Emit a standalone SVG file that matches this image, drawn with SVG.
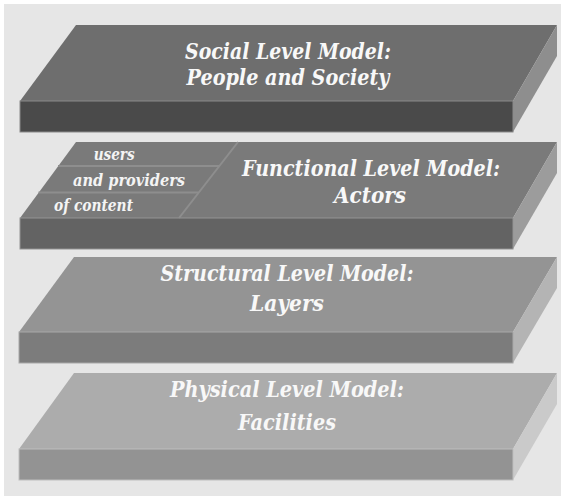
<svg xmlns="http://www.w3.org/2000/svg" width="561" height="496" viewBox="0 0 561 496">
<style>
.t{font-family:"DejaVu Serif","Liberation Serif",serif;font-weight:bold;font-style:italic;fill:#f8f8f8;text-anchor:middle;font-size:21.5px}
.s{font-family:"DejaVu Serif","Liberation Serif",serif;font-weight:bold;font-style:italic;fill:#f4f4f4;font-size:16px}
</style>
<rect x="0" y="0" width="561" height="496" fill="#ffffff"/>
<rect x="4" y="4" width="557" height="492" fill="#e6e6e6"/>

<g id="social">
<polygon points="76,25 557,25 513,101 20,101" fill="#6e6e6e"/>
<polygon points="513,101 557,25 557,56 513,132" fill="#8e8e8e"/>
<rect x="20" y="101" width="493" height="31" fill="#4a4a4a" stroke="#8a8a8a" stroke-width="1"/>
<text class="t" x="288" y="59" textLength="206" lengthAdjust="spacingAndGlyphs">Social Level Model:</text>
<text class="t" x="288" y="85" textLength="203" lengthAdjust="spacingAndGlyphs">People and Society</text>
</g>

<g id="functional">
<polygon points="76,142 557,142 513,218 20,218" fill="#7a7a7a"/>
<polygon points="513,218 557,142 557,173 513,249" fill="#9c9c9c"/>
<rect x="20" y="218" width="493" height="31" fill="#636363" stroke="#939393" stroke-width="1"/>
<g stroke="#8e8e8e" stroke-width="2" fill="none">
<line x1="238" y1="142" x2="179" y2="218"/>
<line x1="58" y1="166" x2="219.5" y2="166"/>
<line x1="38.5" y1="192.5" x2="198.5" y2="192.5"/>
</g>
<text class="s" x="93.7" y="160" textLength="41" lengthAdjust="spacingAndGlyphs">users</text>
<text class="s" x="73" y="186" textLength="112" lengthAdjust="spacingAndGlyphs">and providers</text>
<text class="s" x="54" y="211" textLength="79" lengthAdjust="spacingAndGlyphs">of content</text>
<text class="t" x="371" y="176" textLength="258" lengthAdjust="spacingAndGlyphs">Functional Level Model:</text>
<text class="t" x="370" y="203" textLength="72" lengthAdjust="spacingAndGlyphs">Actors</text>
</g>

<g id="structural">
<polygon points="74,257 557,257 513,332 19,332" fill="#949494"/>
<polygon points="513,332 557,257 557,288 513,363" fill="#b4b4b4"/>
<rect x="19" y="332" width="494" height="31" fill="#7c7c7c" stroke="#a8a8a8" stroke-width="1"/>
<text class="t" x="287" y="281" textLength="253" lengthAdjust="spacingAndGlyphs">Structural Level Model:</text>
<text class="t" x="287" y="311" textLength="74" lengthAdjust="spacingAndGlyphs">Layers</text>
</g>

<g id="physical">
<polygon points="74,373 557,373 513,449 19,449" fill="#acacac"/>
<polygon points="513,449 557,373 557,404 513,480" fill="#cacaca"/>
<rect x="19" y="449" width="494" height="31" fill="#939393" stroke="#bdbdbd" stroke-width="1"/>
<text class="t" x="287" y="397" textLength="234" lengthAdjust="spacingAndGlyphs">Physical Level Model:</text>
<text class="t" x="287" y="430" textLength="98" lengthAdjust="spacingAndGlyphs">Facilities</text>
</g>
<g id="connectors"/>
</svg>
